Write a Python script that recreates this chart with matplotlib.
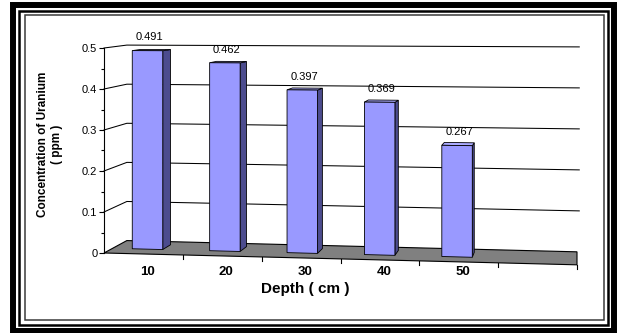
#!/usr/bin/env python3
import numpy as np
import matplotlib.pyplot as plt
from matplotlib.patches import Polygon, Rectangle
from matplotlib.ticker import MultipleLocator, FuncFormatter

plt.rcParams["font.family"] = ["Liberation Sans", "DejaVu Sans"]

# uranium concentration by sampling depth
depths = ["10", "20", "30", "40", "50"]
uranium_ppm = [0.491, 0.462, 0.397, 0.369, 0.267]
value_labels = ["0.491", "0.462", "0.397", "0.369", "0.267"]
y_ticks = [0.0, 0.1, 0.2, 0.3, 0.4, 0.5]

N_SLOTS = 6          # Excel leaves an empty category at the right end
W, H = 617, 333      # figure size in pixels
PX_X = 473 / N_SLOTS # pixels per category slot
PX_V = 410           # pixels per ppm on the front axis

# bar geometry (slot units / depth fraction)
BAR_HALF = 0.197
BAR_SHIFT = -0.05
Z_FRONT, Z_BACK = 0.38, 0.76

FRONT_COL = "#9999FF"
SIDE_COL = "#4C4C8E"
TOP_COL = "#ABABFF"
FLOOR_COL = "#808080"


def proj(x, v, z):
    """Fake-perspective 3D -> data coords of the front plane."""
    xs = x + z * 0.29 * (1 - x / N_SLOTS)
    lift = z * (13 - 20 * v)
    drop = (0.025 - 0.042 * v) * xs * PX_X
    return xs, v + (lift - drop) / PX_V


def poly(ax, pts, **kw):
    p = Polygon([proj(*p) for p in pts], closed=True, clip_on=False, **kw)
    ax.add_patch(p)
    return p


fig = plt.figure(figsize=(W / 100, H / 100), dpi=100)

# ------------------------
# Frame around the chart
# ------------------------
frame = fig.add_axes([0, 0, 1, 1])
frame.set_xlim(0, W)
frame.set_ylim(H, 0)
frame.axis("off")
frame.add_patch(Rectangle((13, 5), 601, 326, fill=False, lw=4.3, ec="black"))
frame.add_patch(Rectangle((18.8, 11.2), 589.5, 313.5, fill=False, lw=1.8, ec="black"))
frame.add_patch(Rectangle((25, 14.5), 578.5, 305.5, fill=False, lw=1.1, ec="#3a3a3a"))

# ------------------------
# Plot area
# ------------------------
ax = fig.add_axes([104 / W, (H - 253) / H, 473 / W, 205 / H])
ax.set_xlim(0, N_SLOTS)
ax.set_ylim(0, 0.5)
ax.patch.set_visible(False)
for s in ["top", "right", "bottom"]:
    ax.spines[s].set_visible(False)
ax.spines["left"].set_linewidth(0.8)

ax.set_yticks(y_ticks)
ax.yaxis.set_major_formatter(FuncFormatter(lambda v, _: f"{v:g}"))
ax.yaxis.set_minor_locator(MultipleLocator(0.05))
ax.tick_params(axis="y", which="major", length=3.8, width=0.8, pad=1, labelsize=8)
ax.tick_params(axis="y", which="minor", length=2.2, width=0.8)

ax.set_xticks([i + 0.5 + 0.05 for i in range(len(depths))], labels=depths,
              fontsize=9.5, fontweight="bold")
ax.tick_params(axis="x", length=0, pad=9.5)

ax.set_xlabel("Depth ( cm )", fontsize=11, fontweight="bold")
ax.xaxis.set_label_coords(0.425, -0.14)
ax.set_ylabel("Concentration of Uranium\n( ppm )", fontsize=8.5,
              fontweight="bold", linespacing=1.3, va="center")
ax.yaxis.set_label_coords(-0.114, 0.53)

# floor
poly(ax, [(0, 0, 0), (N_SLOTS, 0, 0), (N_SLOTS, 0, 1), (0, 0, 1)],
     fc=FLOOR_COL, ec="black", lw=0.8, zorder=1)

# gridlines on the back and left walls
for v in y_ticks[1:]:
    bx0, by0 = proj(0, v, 1)
    bx1, by1 = proj(N_SLOTS + 0.03, v, 1)
    fx, fy = proj(0, v, 0)
    ax.plot([fx, bx0, bx1], [fy, by0, by1], color="black", lw=0.75,
            clip_on=False, zorder=0.5)

# category ticks under the floor front edge
for k in range(1, N_SLOTS + 1):
    tx, ty = proj(k, 0, 0)
    ax.plot([tx, tx], [ty, ty - 4 / PX_V], color="black", lw=0.8,
            clip_on=False, zorder=1)

# bars
for i, v in enumerate(uranium_ppm):
    c = i + 0.5 + BAR_SHIFT
    l, r = c - BAR_HALF, c + BAR_HALF
    poly(ax, [(r, 0, Z_FRONT), (r, 0, Z_BACK), (r, v, Z_BACK), (r, v, Z_FRONT)],
         fc=SIDE_COL, ec="black", lw=0.6, zorder=3)
    poly(ax, [(l, v, Z_FRONT), (r, v, Z_FRONT), (r, v, Z_BACK), (l, v, Z_BACK)],
         fc=TOP_COL, ec="black", lw=0.6, zorder=3)
    poly(ax, [(l, 0, Z_FRONT), (r, 0, Z_FRONT), (r, v, Z_FRONT), (l, v, Z_FRONT)],
         fc=FRONT_COL, ec="black", lw=0.6, zorder=4)
    lx, ly = proj(c, v, Z_FRONT)
    ax.annotate(value_labels[i], (lx, ly), xytext=(1.5, 9.5),
                textcoords="offset points", ha="center", va="center",
                fontsize=8, zorder=5, annotation_clip=False)

fig.savefig("out.png", dpi=100)
